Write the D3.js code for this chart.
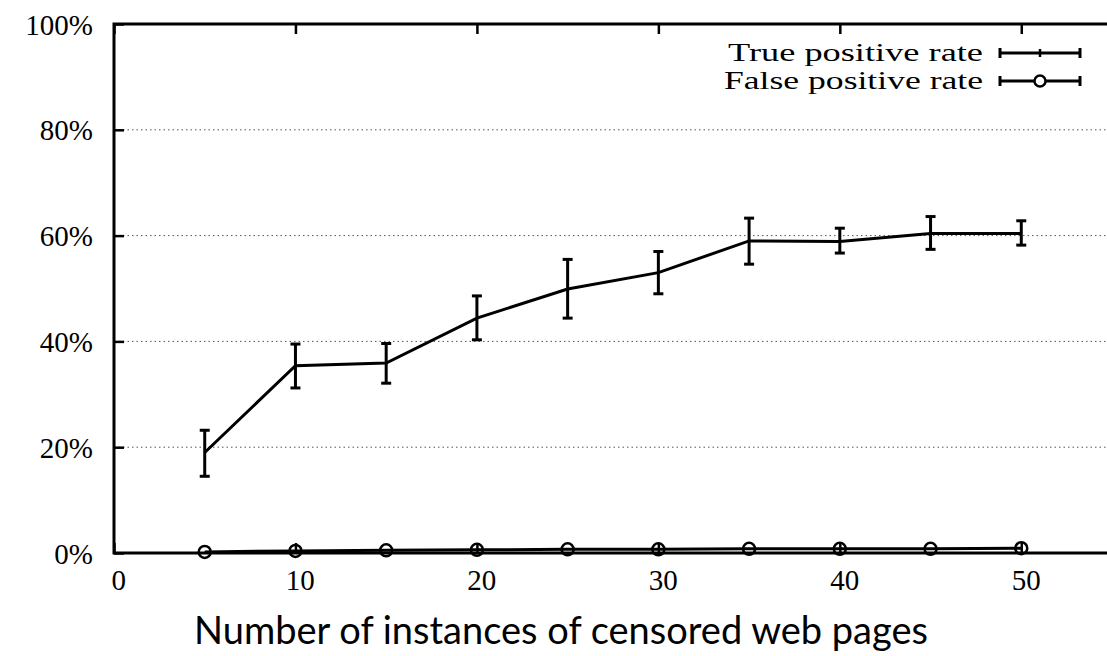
<!DOCTYPE html>
<html>
<head>
<meta charset="utf-8">
<script src="https://cdn.jsdelivr.net/npm/d3@7"></script>
<style>
  body { margin: 0; background: #fff; }
  svg { display: block; }
</style>
</head>
<body>
<script>
const instances = [5, 10, 15, 20, 25, 30, 35, 40, 45, 50];
const tprMean = [19.0, 35.4, 35.9, 44.4, 49.9, 53.0, 59.0, 58.9, 60.4, 60.4];
const tprLow = [14.5, 31.2, 32.1, 40.3, 44.4, 49.0, 54.6, 56.7, 57.4, 58.2];
const tprHigh = [23.2, 39.5, 39.6, 48.6, 55.5, 57.0, 63.3, 61.4, 63.6, 62.8];
const fprMean = [0.2, 0.4, 0.5, 0.6, 0.7, 0.7, 0.8, 0.8, 0.8, 0.9];
const xTicks = [0, 10, 20, 30, 40, 50];
const yTicks = [0, 20, 40, 60, 80, 100];
const seriesNames = ['True positive rate', 'False positive rate'];

const W = 1107, H = 656;
const margin = { top: 24, right: -5, bottom: 103, left: 114 };
const width = W - margin.left - margin.right;
const height = H - margin.top - margin.bottom;

const svg = d3.select('body')
  .append('svg')
  .attr('width', W)
  .attr('height', H);

const g = svg.append('g')
  .attr('transform', `translate(${margin.left},${margin.top})`);

const x = d3.scaleLinear().domain([0, 55]).range([0, width]);
const y = d3.scaleLinear().domain([0, 100]).range([height, 0]);

const serif = '"Liberation Serif", "DejaVu Serif", serif';

// grid lines
g.selectAll('.grid')
  .data(yTicks.filter(d => d > 0 && d < 100))
  .enter()
  .append('line')
  .attr('x1', 0)
  .attr('x2', width)
  .attr('y1', d => y(d))
  .attr('y2', d => y(d))
  .attr('stroke', '#555')
  .attr('stroke-width', 1)
  .attr('stroke-dasharray', '1.5,3');

// axes
const yAxis = g.append('g')
  .call(d3.axisLeft(y).tickValues(yTicks).tickSize(-10).tickPadding(21).tickFormat(d => d + '%'));
const xAxis = g.append('g')
  .attr('transform', `translate(0,${height})`)
  .call(d3.axisBottom(x).tickValues(xTicks).tickSize(-10).tickPadding(22));
const xTop = g.append('g')
  .call(d3.axisTop(x).tickValues(xTicks).tickSize(-10).tickFormat(''));

[yAxis, xAxis, xTop].forEach(a => {
  a.select('.domain').remove();
  a.selectAll('.tick line').attr('stroke', '#000').attr('stroke-width', 2.5);
  a.selectAll('text')
    .style('font-family', serif)
    .style('font-size', '29px')
    .attr('fill', '#000');
});
yAxis.selectAll('text').attr('dy', '0.35em');
xAxis.selectAll('text').attr('dy', '0.5em').attr('dx', '0.15em');

// frame
g.append('rect')
  .attr('x', 0)
  .attr('y', 0)
  .attr('width', width)
  .attr('height', height)
  .attr('fill', 'none')
  .attr('stroke', '#000')
  .attr('stroke-width', 3);

// true positive line with error bars
const tpr = instances.map((d, i) => ({ x: d, y: tprMean[i], lo: tprLow[i], hi: tprHigh[i] }));
const fpr = instances.map((d, i) => ({ x: d, y: fprMean[i] }));

const line = d3.line().x(d => x(d.x)).y(d => y(d.y));

g.append('path')
  .datum(tpr)
  .attr('d', line)
  .attr('fill', 'none')
  .attr('stroke', '#000')
  .attr('stroke-width', 3);

const eb = g.selectAll('.eb')
  .data(tpr)
  .enter()
  .append('g');
eb.append('line')
  .attr('x1', d => x(d.x)).attr('x2', d => x(d.x))
  .attr('y1', d => y(d.lo)).attr('y2', d => y(d.hi))
  .attr('stroke', '#000').attr('stroke-width', 3);
eb.append('line')
  .attr('x1', d => x(d.x) - 5).attr('x2', d => x(d.x) + 5)
  .attr('y1', d => y(d.lo)).attr('y2', d => y(d.lo))
  .attr('stroke', '#000').attr('stroke-width', 3);
eb.append('line')
  .attr('x1', d => x(d.x) - 5).attr('x2', d => x(d.x) + 5)
  .attr('y1', d => y(d.hi)).attr('y2', d => y(d.hi))
  .attr('stroke', '#000').attr('stroke-width', 3);

// false positive line with circles
g.append('path')
  .datum(fpr)
  .attr('d', line)
  .attr('fill', 'none')
  .attr('stroke', '#000')
  .attr('stroke-width', 3);

g.selectAll('.fp')
  .data(fpr)
  .enter()
  .append('circle')
  .attr('cx', d => x(d.x))
  .attr('cy', d => y(d.y))
  .attr('r', 6)
  .attr('fill', 'none')
  .attr('stroke', '#000')
  .attr('stroke-width', 2.5);

// legend
const legend = svg.append('g');
const legendY = [53, 81];
const legendTextLen = [255, 259];
seriesNames.forEach((name, i) => {
  const ly = legendY[i];
  legend.append('text')
    .attr('x', 983)
    .attr('y', ly)
    .attr('dy', '0.32em')
    .attr('text-anchor', 'end')
    .attr('textLength', legendTextLen[i])
    .attr('lengthAdjust', 'spacingAndGlyphs')
    .style('font-family', serif)
    .style('font-size', '25px')
    .text(name);
  legend.append('line')
    .attr('x1', 1000).attr('x2', 1080)
    .attr('y1', ly).attr('y2', ly)
    .attr('stroke', '#000').attr('stroke-width', 3);
  [1000, 1080].forEach(cx => {
    legend.append('line')
      .attr('x1', cx).attr('x2', cx)
      .attr('y1', ly - 5).attr('y2', ly + 5)
      .attr('stroke', '#000').attr('stroke-width', 3);
  });
  if (i === 0) {
    legend.append('line')
      .attr('x1', 1040).attr('x2', 1040)
      .attr('y1', ly - 4).attr('y2', ly + 4)
      .attr('stroke', '#000').attr('stroke-width', 2.5);
  } else {
    legend.append('circle')
      .attr('cx', 1040).attr('cy', ly).attr('r', 5.5)
      .attr('fill', '#fff').attr('stroke', '#000').attr('stroke-width', 2.5);
  }
});

// x axis title
svg.append('text')
  .attr('x', 561)
  .attr('y', 644)
  .attr('text-anchor', 'middle')
  .style('font-family', 'Lato, "Open Sans", sans-serif')
  .style('font-size', '38px')
  .attr('fill', '#000')
  .text('Number of instances of censored web pages');
</script>
</body>
</html>
